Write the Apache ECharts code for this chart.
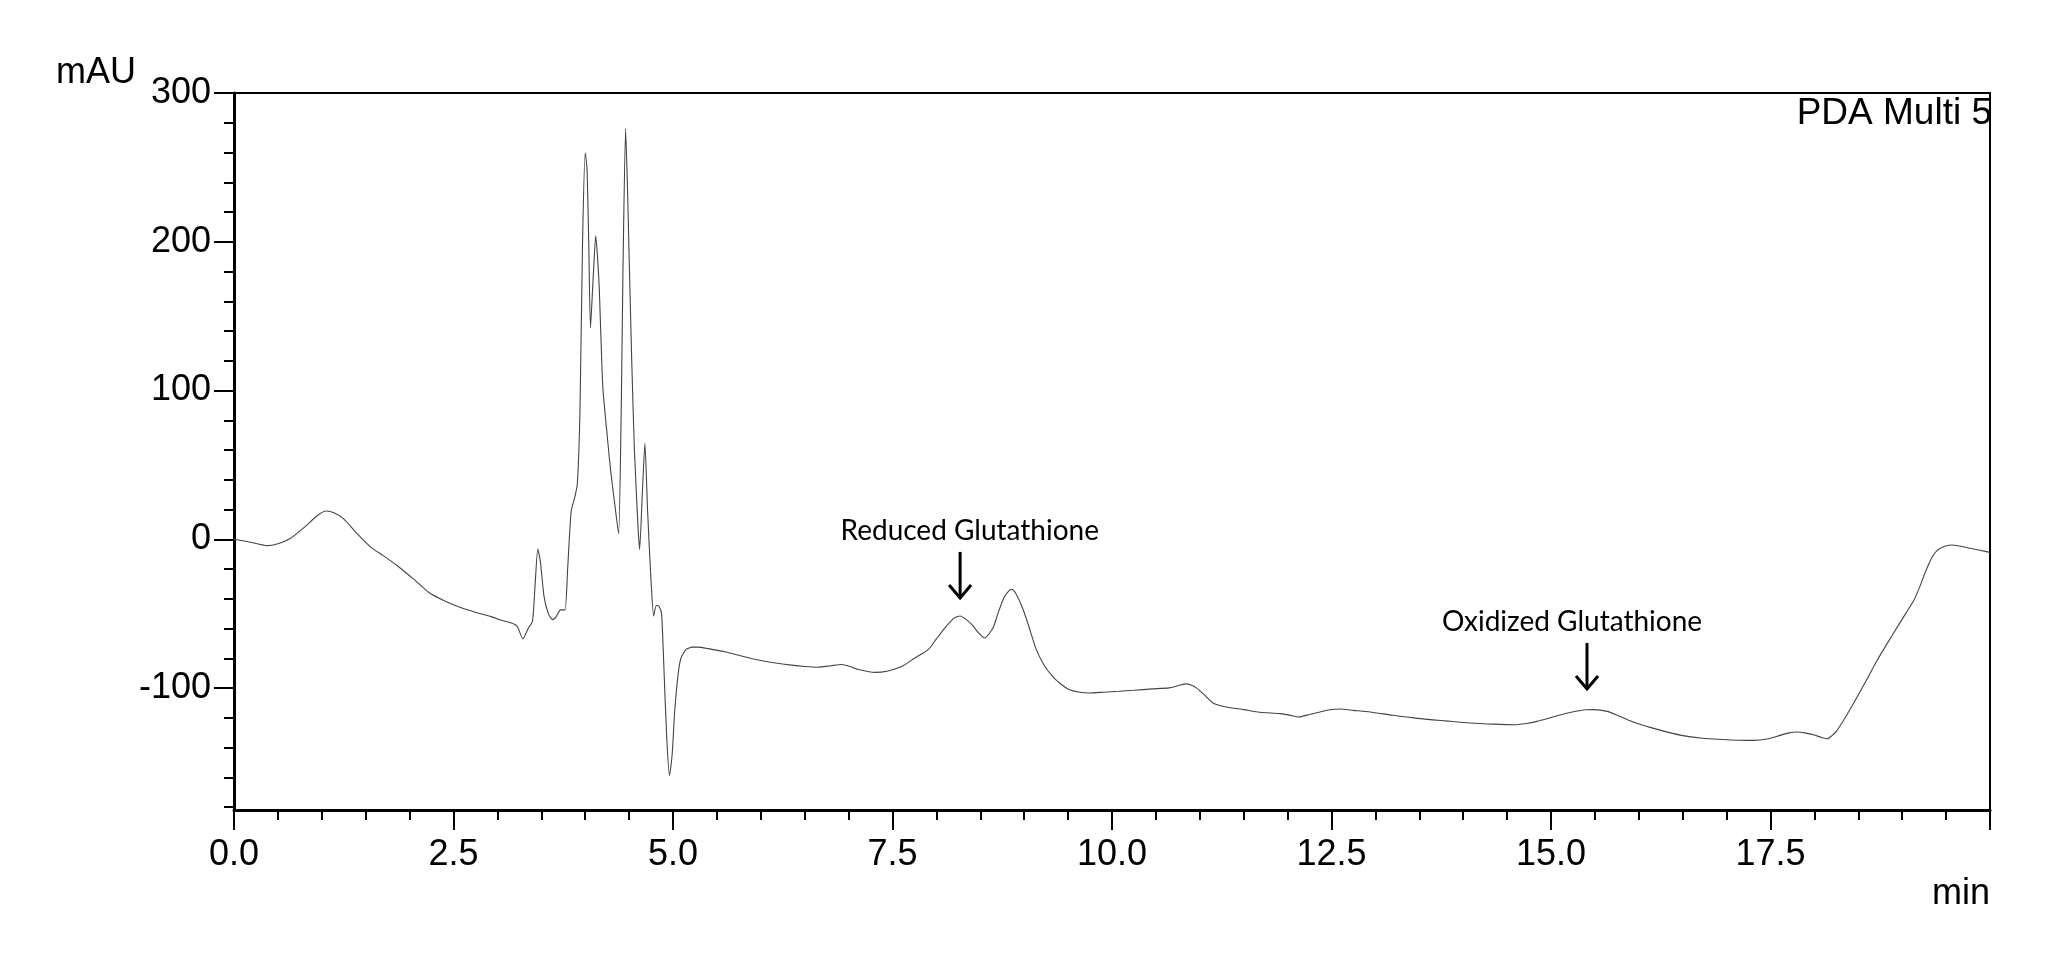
<!DOCTYPE html>
<html>
<head>
<meta charset="utf-8">
<script src="https://cdn.jsdelivr.net/npm/echarts@6/dist/echarts.min.js"></script>
<style>
html,body{margin:0;padding:0;background:#fff;}
#chart{width:2050px;height:963px;}
</style>
</head>
<body>
<div id="chart"></div>
<script>
// retention time (min)
const times = [
0.00,0.15,0.38,0.50,0.64,0.80,0.95,1.05,1.15,1.25,1.40,1.56,1.70,1.86,2.05,2.22,2.40,2.58,2.75,2.93,
3.05,3.19,3.23,3.29,3.35,3.40,3.43,3.46,3.49,3.53,3.58,3.63,3.67,3.72,3.77,3.80,3.84,3.88,3.91,3.94,
3.97,4.00,4.02,4.04,4.06,4.09,4.12,4.14,4.16,4.20,4.25,4.29,4.34,4.38,4.41,4.43,4.46,4.48,4.50,4.53,
4.56,4.60,4.62,4.65,4.68,4.71,4.73,4.75,4.78,4.81,4.84,4.87,4.90,4.93,4.96,4.99,5.02,5.06,5.09,5.15,
5.22,5.28,5.40,5.59,5.78,5.97,6.15,6.35,6.50,6.65,6.80,6.92,7.04,7.11,7.30,7.45,7.61,7.75,7.91,8.00,
8.10,8.20,8.27,8.34,8.41,8.48,8.55,8.60,8.65,8.70,8.77,8.82,8.86,8.90,8.98,9.05,9.13,9.22,9.32,9.42,
9.51,9.62,9.74,9.90,10.08,10.25,10.46,10.65,10.76,10.84,10.90,10.96,11.05,11.15,11.30,11.50,11.68,11.91,12.02,12.12,
12.25,12.37,12.48,12.60,12.75,12.94,13.20,13.51,13.80,14.08,14.35,14.58,14.72,14.84,15.05,15.23,15.40,15.49,15.64,15.75,
15.87,16.02,16.18,16.35,16.50,16.70,16.85,17.05,17.30,17.46,17.60,17.70,17.80,17.90,17.99,18.08,18.15,18.20,18.25,18.35,
18.48,18.60,18.71,18.83,18.94,19.05,19.13,19.20,19.24,19.30,19.35,19.40,19.47,19.56,19.65,19.73,19.87,20.00
];
// absorbance (mAU)
const absorbance = [
0,-1.5,-4.3,-3,0.5,8,16,19,17.5,13.7,4,-5.4,-11,-17.8,-27,-35.8,-41.5,-45.9,-49,-52,
-54.5,-57,-59,-67,-60,-55,-30,-6.5,-15,-38,-50,-54,-52,-47.5,-47.5,-20,18.8,28,36.8,85,
200,259.8,250,200,142,175,204,190,169,103,70,46,22,3.8,85,180,276,240,190.7,120,
61,10,-6.8,30,64.6,20,-5,-28,-51.6,-44.5,-45,-50,-92,-135,-158.8,-145,-115,-90,-80,-74,
-72.5,-72.5,-73.5,-75.6,-78.5,-81.2,-83,-84.6,-85.5,-86,-85,-84.2,-86,-87.5,-89.5,-88.5,-85.3,-80,-74,-67,
-59.4,-53,-51.6,-54,-57.7,-63,-66.4,-63.5,-59,-50,-39.2,-35,-33.6,-36,-46,-58,-73,-84,-92,-97.5,
-101,-102.7,-103.3,-102.8,-102.2,-101.5,-100.6,-99.9,-98.3,-97.2,-98,-99.9,-104.5,-110,-112.7,-114.5,-116.3,-117.2,-118.2,-119.5,
-117.8,-116.1,-114.6,-114.1,-115,-116.1,-118.3,-120.6,-122.1,-123.5,-124.3,-124.7,-123.8,-122.4,-119,-116.3,-114.6,-114.5,-115.7,-118.2,
-121.3,-124.5,-127.3,-130,-132,-133.6,-134.3,-134.9,-135.2,-134.3,-132,-130.3,-129.6,-130.3,-131.4,-133.2,-134.1,-132,-129.1,-120,
-106.7,-94,-81.9,-70,-59.4,-49,-41.4,-32,-25.7,-17,-11.1,-7.5,-5,-3.9,-4.5,-5.5,-7.2,-8.8
];

const xTickLabels = ['0.0','2.5','5.0','7.5','10.0','12.5','15.0','17.5'];
const yMajorTicks = [-100, 0, 100, 200, 300];
const yMinorTicks = [-180,-160,-140,-120,-80,-60,-40,-20,20,40,60,80,120,140,160,180,220,240,260,280];

const yAxisName = 'mAU';
const xAxisName = 'min';
const channelName = 'PDA Multi 5';

// annotations (in data coordinates)
const annotationLabels = ['Reduced Glutathione', 'Oxidized Glutathione'];
const annotationTextX = [8.38, 15.24];
const annotationTextY = [5.9, -55.6];
const arrowX = [8.27, 15.41];
const arrowTopY = [-8.5, -69.7];
const arrowTipY = [-39.5, -100.6];

const data = times.map((t, i) => [t, absorbance[i]]);

const chart = echarts.init(document.getElementById('chart'), null, {renderer: 'canvas'});
const FONT = "'Liberation Sans', Arial, sans-serif";

chart.setOption({
  animation: false,
  backgroundColor: '#fff',
  grid: {
    left: 234, right: 60, top: 93, bottom: 153,
    show: true, borderColor: '#000', borderWidth: 2, backgroundColor: 'transparent'
  },
  xAxis: {
    type: 'value', min: 0, max: 20, interval: 2.5,
    axisLine: { show: true, onZero: false, lineStyle: { color: '#000', width: 3 } },
    axisTick: { show: true, inside: false, length: 20, lineStyle: { color: '#000', width: 2 } },
    minorTick: { show: true, splitNumber: 5, length: 10, lineStyle: { color: '#000', width: 2 } },
    splitLine: { show: false },
    minorSplitLine: { show: false },
    axisLabel: {
      fontSize: 36, color: '#000', fontFamily: FONT, margin: 27,
      formatter: function (v) {
        const s = v.toFixed(1);
        return xTickLabels.indexOf(s) >= 0 ? s : '';
      }
    }
  },
  yAxis: [{
    type: 'value', min: -182, max: 300,
    axisLine: { show: true, onZero: false, lineStyle: { color: '#000', width: 3 } },
    axisTick: { show: true, inside: false, length: 20, customValues: yMajorTicks, lineStyle: { color: '#000', width: 2 } },
    splitLine: { show: false },
    axisLabel: {
      fontSize: 36, color: '#000', fontFamily: FONT, margin: 23,
      customValues: yMajorTicks,
      formatter: function (v) { return String(v); }
    }
  }, {
    type: 'value', min: -182, max: 300, position: 'left',
    axisLine: { show: false },
    axisTick: { show: true, inside: false, length: 10, customValues: yMinorTicks, lineStyle: { color: '#000', width: 2 } },
    splitLine: { show: false },
    axisLabel: { show: false }
  }],
  series: [{
    type: 'line',
    data: data,
    yAxisIndex: 0,
    showSymbol: false,
    smooth: 0.2,
    lineStyle: { color: '#444', width: 1.1 },
    silent: true
  }]
});

function buildGraphics() {
  const els = [];
  els.push({ type: 'text', x: 56, y: 73, style: { text: yAxisName, font: '36px ' + FONT, fill: '#000', textAlign: 'left', textVerticalAlign: 'middle' } });
  els.push({ type: 'text', x: 1990, y: 894, style: { text: xAxisName, font: '36px ' + FONT, fill: '#000', textAlign: 'right', textVerticalAlign: 'middle' } });
  els.push({ type: 'text', x: 1992, y: 114, style: { text: channelName, font: '37px ' + FONT, fill: '#000', textAlign: 'right', textVerticalAlign: 'middle' } });
  for (let i = 0; i < annotationLabels.length; i++) {
    const tp = chart.convertToPixel({ gridIndex: 0 }, [annotationTextX[i], annotationTextY[i]]);
    const top = chart.convertToPixel({ gridIndex: 0 }, [arrowX[i], arrowTopY[i]]);
    const tip = chart.convertToPixel({ gridIndex: 0 }, [arrowX[i], arrowTipY[i]]);
    els.push({ type: 'text', x: tp[0], y: tp[1], style: { text: annotationLabels[i], font: "28px Lato, 'Open Sans', sans-serif", fill: '#000', textAlign: 'center', textVerticalAlign: 'middle' } });
    els.push({ type: 'polyline', shape: { points: [[top[0], top[1]], [tip[0], tip[1]]] }, style: { stroke: '#000', lineWidth: 3, fill: null } });
    els.push({ type: 'polyline', shape: { points: [[tip[0] - 11, tip[1] - 13], [tip[0], tip[1]], [tip[0] + 11, tip[1] - 13]] }, style: { stroke: '#000', lineWidth: 3, fill: null, lineJoin: 'miter' } });
  }
  chart.setOption({ graphic: { elements: els } });
}
buildGraphics();
</script>
</body>
</html>
